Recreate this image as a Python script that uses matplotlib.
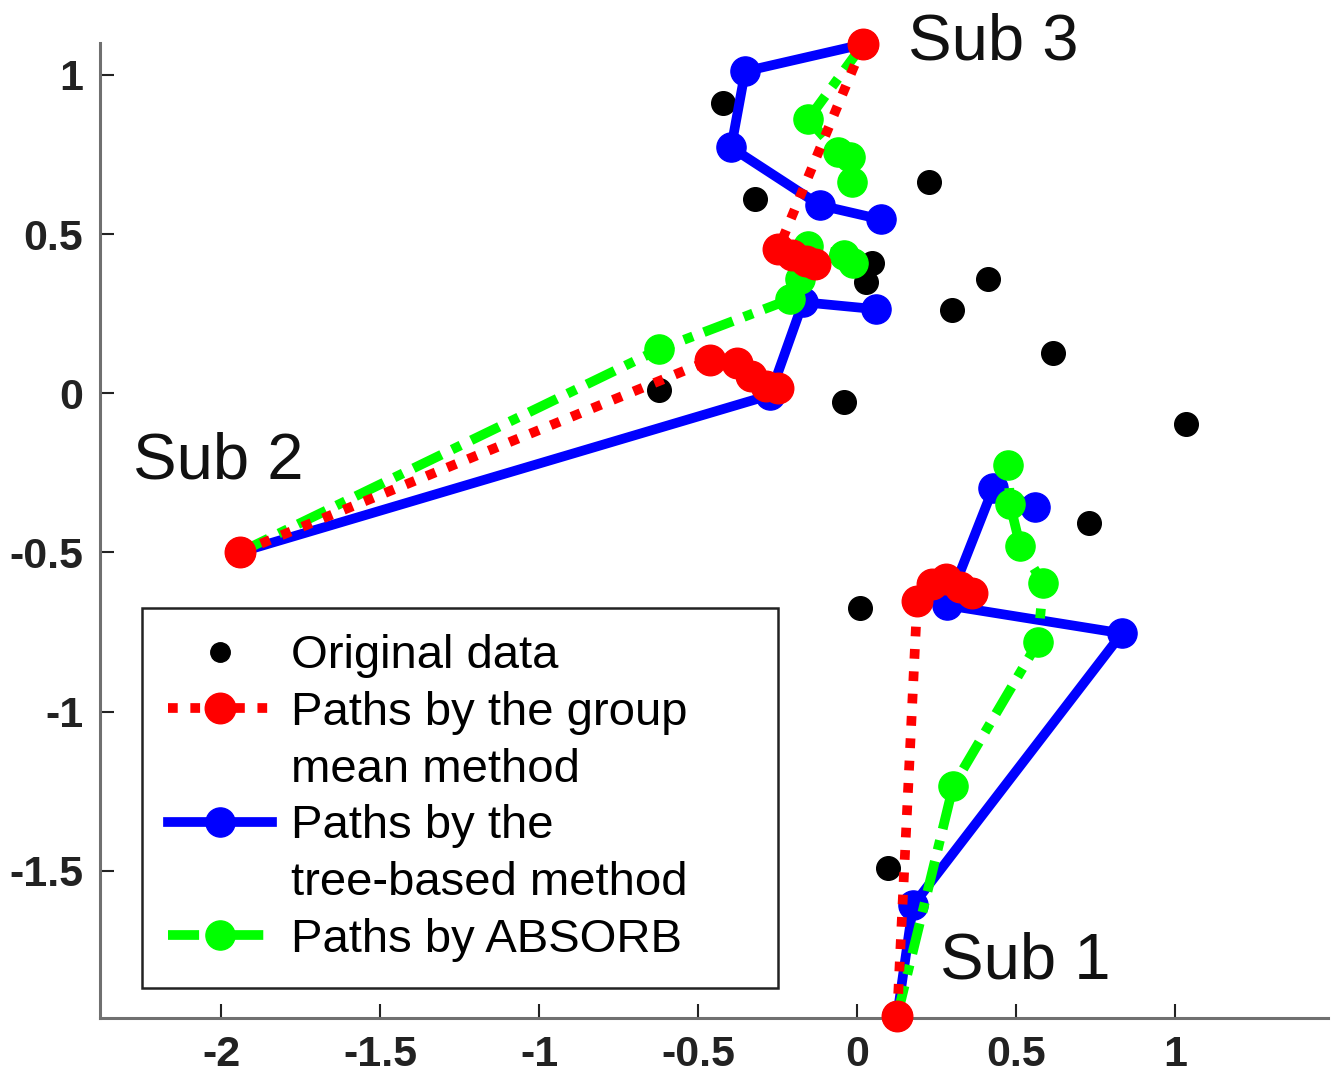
import matplotlib
matplotlib.use('Agg')
import matplotlib.pyplot as plt
from matplotlib.lines import Line2D

plt.rcParams['font.family'] = ['Liberation Sans', 'DejaVu Sans']

# ---------------- data ----------------
orig_x = [-0.421, -0.321, 0.226, 0.047, 0.028, 0.412, 0.299, 0.616, -0.623, -0.041, 1.035, 0.730, 0.009, 0.097]
orig_y = [0.911, 0.609, 0.662, 0.408, 0.349, 0.358, 0.261, 0.126, 0.009, -0.028, -0.097, -0.408, -0.675, -1.491]

sub_names = ['Sub 1', 'Sub 2', 'Sub 3']
sub_start_x = [0.126, -1.940, 0.019]
sub_start_y = [-1.956, -0.499, 1.096]

# group mean method (red)
red_sub1_x = [0.126, 0.189, 0.236, 0.280, 0.324, 0.362]
red_sub1_y = [-1.956, -0.653, -0.600, -0.584, -0.609, -0.628]
red_sub2_x = [-1.940, -0.462, -0.377, -0.333, -0.286, -0.248]
red_sub2_y = [-0.499, 0.104, 0.094, 0.053, 0.022, 0.016]
red_sub3_x = [0.019, -0.248, -0.204, -0.160, -0.132]
red_sub3_y = [1.096, 0.452, 0.433, 0.414, 0.405]

# tree-based method (blue)
blue_sub1_x = [0.126, 0.176, 0.833, 0.283, 0.428, 0.560]
blue_sub1_y = [-1.956, -1.608, -0.754, -0.666, -0.298, -0.358]
blue_sub2_x = [-1.940, -0.274, -0.170, 0.060]
blue_sub2_y = [-0.499, -0.006, 0.286, 0.264]
blue_sub3_x = [0.019, -0.352, -0.396, -0.116, 0.075]
blue_sub3_y = [1.096, 1.011, 0.772, 0.590, 0.546]

# ABSORB (green)
green_sub1_x = [0.126, 0.302, 0.569, 0.585, 0.513, 0.481, 0.475]
green_sub1_y = [-1.956, -1.234, -0.782, -0.597, -0.480, -0.349, -0.226]
green_sub2_x = [-1.940, -0.623, -0.211, -0.179, -0.154, -0.041, -0.013]
green_sub2_y = [-0.499, 0.138, 0.295, 0.358, 0.462, 0.433, 0.408]
green_sub3_x = [0.019, -0.154, -0.060, -0.022, -0.016]
green_sub3_y = [1.096, 0.860, 0.757, 0.741, 0.662]

x_ticks = [-2, -1.5, -1, -0.5, 0, 0.5, 1]
x_tick_labels = ['-2', '-1.5', '-1', '-0.5', '0', '0.5', '1']
y_ticks = [-1.5, -1, -0.5, 0, 0.5, 1]
y_tick_labels = ['-1.5', '-1', '-0.5', '0', '0.5', '1']

legend_labels = ['Original data', 'Paths by the group', 'mean method',
                 'Paths by the', 'tree-based method', 'Paths by ABSORB']

# ---------------- styles ----------------
RED = (1, 0, 0)
BLUE = (0, 0, 1)
GREEN = (0, 1, 0)
LW = 7
MS = 22
red_style = dict(color=RED, lw=LW, marker='o', ms=MS, mec=RED, mfc=RED,
                 dashes=(1, 1.3), dash_capstyle='butt', zorder=5, clip_on=False)
blue_style = dict(color=BLUE, lw=LW, marker='o', ms=MS - 1, mec=BLUE, mfc=BLUE,
                  linestyle='-', zorder=3, clip_on=False)
green_style = dict(color=GREEN, lw=LW, marker='o', ms=MS - 1, mec=GREEN, mfc=GREEN,
                   dashes=(3.2, 1.2, 1, 1.2), dash_capstyle='butt', zorder=4, clip_on=False)

fig = plt.figure(figsize=(13.39, 10.73), dpi=100)
ax = fig.add_axes([100 / 1339, 1 - 1018 / 1073, 1228 / 1339, 975 / 1073])

ax.plot(orig_x, orig_y, linestyle='none', marker='o', ms=17, color='black', zorder=2, clip_on=False)

for xs, ys in [(blue_sub1_x, blue_sub1_y), (blue_sub2_x, blue_sub2_y), (blue_sub3_x, blue_sub3_y)]:
    ax.plot(xs, ys, **blue_style)
for xs, ys in [(green_sub1_x, green_sub1_y), (green_sub2_x, green_sub2_y), (green_sub3_x, green_sub3_y)]:
    ax.plot(xs, ys, **green_style)
for xs, ys in [(red_sub1_x, red_sub1_y), (red_sub2_x, red_sub2_y), (red_sub3_x, red_sub3_y)]:
    ax.plot(xs, ys, **red_style)

# subject labels
label_offsets = {'Sub 1': (0.135, 0.17), 'Sub 2': (-0.337, 0.286), 'Sub 3': (0.141, 0.006)}
for name, sx, sy in zip(sub_names, sub_start_x, sub_start_y):
    dx, dy = label_offsets[name]
    ax.text(sx + dx, sy + dy, name, fontsize=47, ha='left', va='center', color='#111111', zorder=6)

ax.set_xlim(-2.381, 1.481)
ax.set_ylim(-1.962, 1.100)
ax.set_xticks(x_ticks)
ax.set_xticklabels(x_tick_labels)
ax.set_yticks(y_ticks)
ax.set_yticklabels(y_tick_labels)
for lab in ax.get_xticklabels() + ax.get_yticklabels():
    lab.set_fontweight('bold')
ax.tick_params(direction='in', length=10, width=1.5, labelsize=31, pad=12, colors='#222222')
ax.spines['top'].set_visible(False)
ax.spines['right'].set_visible(False)
for s in ['left', 'bottom']:
    ax.spines[s].set_color('#707070')
    ax.spines[s].set_linewidth(2.2)

# legend
blank = Line2D([], [], linestyle='none', marker=None)
h_orig = Line2D([], [], linestyle='none', marker='o', ms=14, color='black')
h_red = Line2D([], [], **{k: v for k, v in red_style.items() if k not in ('zorder', 'clip_on')})
h_blue = Line2D([], [], **{k: v for k, v in blue_style.items() if k not in ('zorder', 'clip_on')})
h_green = Line2D([], [], **{k: v for k, v in green_style.items() if k not in ('zorder', 'clip_on')})
handles = [h_orig, h_red, blank, h_blue, blank, h_green]
leg_x0 = (142 - 100) / 1228
leg_w = (778 - 142) / 1228
leg = ax.legend(handles, legend_labels, loc='lower left',
                bbox_to_anchor=(leg_x0, 0.031, leg_w, 0.3), mode='expand',
                borderaxespad=0, fontsize=34, numpoints=1, handlelength=2.2,
                handletextpad=0.4, labelspacing=0.27, borderpad=0.55,
                fancybox=False, framealpha=1, edgecolor='#222222')
leg.get_frame().set_linewidth(1.8)
leg.set_zorder(10)

fig.savefig('out.png', dpi=100, facecolor='white')
